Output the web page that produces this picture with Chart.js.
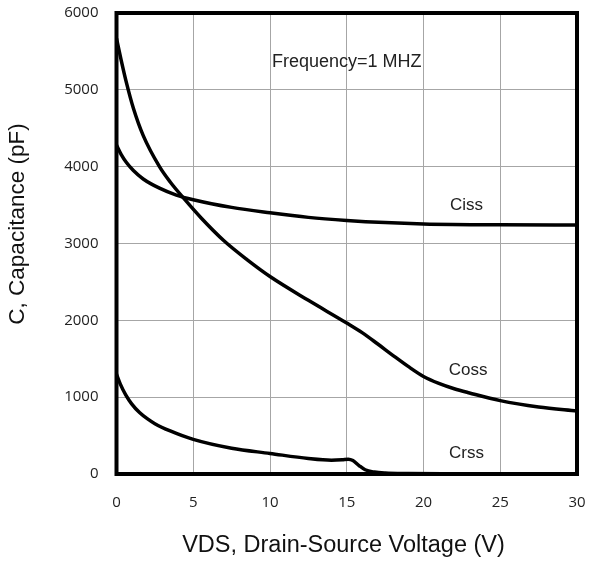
<!DOCTYPE html>
<html>
<head>
<meta charset="utf-8">
<script src="https://cdn.jsdelivr.net/npm/chart.js@4.4.1/dist/chart.umd.min.js"></script>
<style>
  html, body { margin: 0; padding: 0; background: #fff; }
  #wrap { width: 589px; height: 563px; position: relative; }
</style>
</head>
<body>
<div id="wrap"><canvas id="c" width="589" height="563"></canvas></div>
<script>
// Capacitance vs. drain-source voltage (f = 1 MHz)
const cissV = [0, 0.3, 0.66, 1.1, 1.74, 2.8, 3.9, 5, 7.5, 10, 12.5, 15, 17.5, 20, 25, 30];
const cissC = [4280, 4160, 4050, 3950, 3840, 3720, 3630, 3570, 3470, 3400, 3340, 3300, 3272, 3255, 3243, 3240];

const cossV = [0, 0.3, 0.65, 1.1, 1.75, 2.8, 3.5, 4.5, 5.5, 7, 8.5, 10, 12.5, 15, 16, 17, 18, 19, 20, 21, 22, 23, 25, 27.5, 30];
const cossC = [5670, 5390, 5090, 4760, 4400, 4000, 3800, 3560, 3335, 3035, 2790, 2570, 2260, 1965, 1840, 1695, 1545, 1400, 1270, 1180, 1110, 1055, 955, 872, 820];

const crssV = [0, 0.25, 0.6, 1, 1.5, 2, 2.5, 3.5, 5, 7.5, 10, 12.5, 14, 14.7, 15.1, 15.4, 15.8, 16.2, 16.8, 17.5, 19, 22, 30];
const crssC = [1300, 1170, 1030, 910, 800, 720, 655, 560, 450, 335, 268, 202, 180, 185, 192, 175, 110, 55, 25, 12, 5, 2, 0];

const xTicks = [0, 5, 10, 15, 20, 25, 30];
const yTicks = [0, 1000, 2000, 3000, 4000, 5000, 6000];

const curveLabels = [
  { text: 'Ciss', x: 22.8, y: 3500 },
  { text: 'Coss', x: 22.9, y: 1355 },
  { text: 'Crss', x: 22.8, y: 275 }
];
const noteText = 'Frequency=1 MHZ';
const xTitle = 'VDS, Drain-Source Voltage (V)';
const yTitle = 'C, Capacitance (pF)';

const pts = (xs, ys) => xs.map((x, i) => ({ x: x, y: ys[i] }));

const line = (label, xs, ys) => ({
  label: label,
  data: pts(xs, ys),
  borderColor: '#000',
  borderWidth: 3.5,
  pointRadius: 0,
  fill: false,
  cubicInterpolationMode: 'monotone'
});

const TICK_FONT = { family: '"Open Sans", sans-serif', size: 15 };
const SANS = '"Liberation Sans", Arial, sans-serif';

// frame, annotations and axis titles
const decor = {
  id: 'decor',
  afterDatasetsDraw(chart) {
    const { ctx, chartArea: a, scales } = chart;
    ctx.save();
    ctx.strokeStyle = '#000';
    ctx.lineWidth = 4;
    ctx.strokeRect(a.left, a.top, a.right - a.left, a.bottom - a.top);

    ctx.fillStyle = '#222';
    ctx.textAlign = 'center';
    ctx.textBaseline = 'middle';
    ctx.font = '17px ' + SANS;
    curveLabels.forEach(l => {
      ctx.fillText(l.text, scales.x.getPixelForValue(l.x), scales.y.getPixelForValue(l.y));
    });
    ctx.font = '18px ' + SANS;
    ctx.fillText(noteText, scales.x.getPixelForValue(15.0), scales.y.getPixelForValue(5365));

    ctx.font = '23.5px ' + SANS;
    ctx.fillStyle = '#111';
    ctx.fillText(xTitle, 343.5, 546);
    ctx.font = '22.5px ' + SANS;
    ctx.translate(18, 224);
    ctx.rotate(-Math.PI / 2);
    ctx.fillText(yTitle, 0, 0);
    ctx.restore();
  }
};

new Chart(document.getElementById('c'), {
  type: 'line',
  data: {
    datasets: [
      line('Ciss', cissV, cissC),
      line('Coss', cossV, cossC),
      line('Crss', crssV, crssC)
    ]
  },
  options: {
    responsive: false,
    animation: false,
    layout: { padding: { left: 0, top: 13, right: 12, bottom: 0 } },
    plugins: { legend: { display: false }, tooltip: { enabled: false } },
    scales: {
      x: {
        type: 'linear',
        min: 0, max: 30,
        afterBuildTicks: s => { s.ticks = xTicks.map(v => ({ value: v })); },
        afterFit: s => { s.height = 89; s.paddingLeft = 0; s.paddingRight = 0; },
        grid: { color: '#a6a6a6', lineWidth: 1, drawTicks: false },
        border: { display: false },
        ticks: { color: '#222', font: TICK_FONT, padding: 20, maxRotation: 0, callback: v => String(v) }
      },
      y: {
        type: 'linear',
        min: 0, max: 6000,
        afterBuildTicks: s => { s.ticks = yTicks.map(v => ({ value: v })); },
        afterFit: s => { s.width = 116.5; s.paddingTop = 0; s.paddingBottom = 0; },
        grid: { color: '#a6a6a6', lineWidth: 1, drawTicks: false },
        border: { display: false },
        ticks: { color: '#222', font: TICK_FONT, padding: 18, callback: v => String(v) }
      }
    }
  },
  plugins: [decor]
});
</script>
</body>
</html>
